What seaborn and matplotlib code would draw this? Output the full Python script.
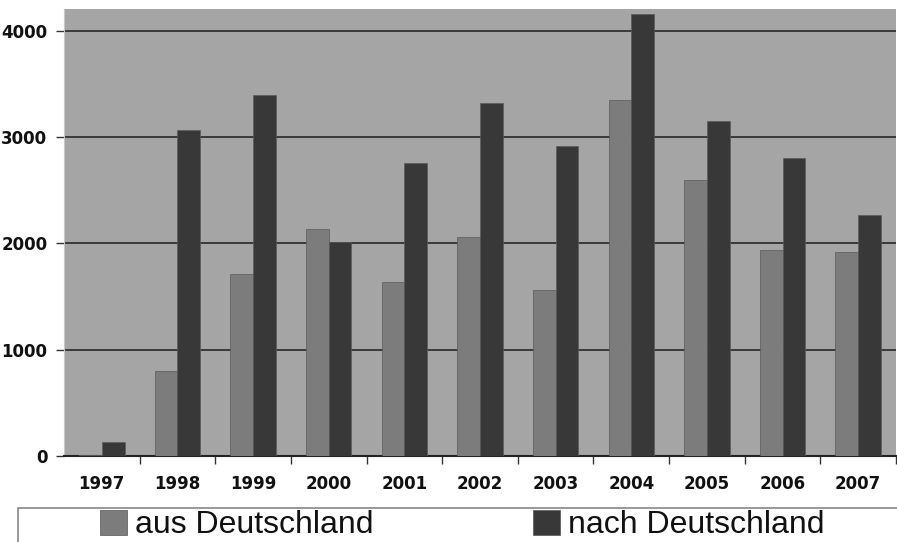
import pandas as pd
import numpy as np
import matplotlib.pyplot as plt
import matplotlib.patches as mpatches
import seaborn as sns

years = ["1997", "1998", "1999", "2000", "2001", "2002", "2003", "2004", "2005", "2006", "2007"]
aus_deutschland = [10, 800, 1710, 2140, 1640, 2060, 1560, 3350, 2600, 1940, 1920]
nach_deutschland = [130, 3070, 3400, 2010, 2760, 3320, 2920, 4160, 3150, 2800, 2270]
series_names = ["aus Deutschland", "nach Deutschland"]
y_ticks = [0, 1000, 2000, 3000, 4000]

df = pd.DataFrame({
    "Jahr": years * 2,
    "Wert": aus_deutschland + nach_deutschland,
    "Serie": [series_names[0]] * len(years) + [series_names[1]] * len(years),
})

sns.set_style("white")
plt.rcParams['font.family'] = ['DejaVu Sans']

fig = plt.figure(figsize=(8.97, 5.42), dpi=100)
ax = fig.add_axes([64 / 897, 86 / 542, 832 / 897, 447 / 542])
ax.set_facecolor("#a5a5a5")

palette = {series_names[0]: "#7c7c7c", series_names[1]: "#383838"}
sns.barplot(data=df, x="Jahr", y="Wert", hue="Serie", palette=palette,
            width=0.6, gap=0, ax=ax, legend=False, saturation=1,
            edgecolor="#5a5a5a", linewidth=0.5, zorder=3)

ax.set_ylim(0, 4205)
ax.set_xlim(-0.5, len(years) - 0.5)
ax.set_yticks(y_ticks)
ax.yaxis.grid(True, color="#3a3a3a", linewidth=1.4, zorder=1)
ax.set_axisbelow(True)
ax.set_xlabel("")
ax.set_ylabel("")

# ticks between the categories, labels centred
ax.set_xticks(np.arange(len(years)) + 0.5, minor=True)
ax.tick_params(axis="x", which="major", length=0, pad=14)
ax.tick_params(axis="x", which="minor", length=6, width=1, color="#333333", direction="out", bottom=True)
ax.tick_params(axis="y", length=6, width=1, color="#333333", direction="out", left=True, pad=6)
for lab in ax.get_xticklabels() + ax.get_yticklabels():
    lab.set_fontweight("bold")
    lab.set_fontsize(12)
    lab.set_color("#111111")

for side in ["top", "right"]:
    ax.spines[side].set_visible(False)
ax.spines["left"].set_color("#c8c8c8")
ax.spines["bottom"].set_color("#222222")
ax.spines["bottom"].set_linewidth(1.5)

# legend frame box
frame = mpatches.Rectangle((18 / 897, -0.02), 0.99, (542 - 508) / 542 + 0.02,
                           transform=fig.transFigure, facecolor="white",
                           edgecolor="#888888", linewidth=1.2)
fig.patches.append(frame)

handles = [plt.Rectangle((0, 0), 1, 1, facecolor=palette[s], edgecolor="#555555", linewidth=0.5) for s in series_names]
leg = fig.legend(handles, series_names, loc="center", ncol=2,
                 bbox_to_anchor=(462 / 897, 1 - 525 / 542),
                 frameon=False, columnspacing=5.0,
                 handlelength=0.85, handleheight=0.85, handletextpad=0.25,
                 borderaxespad=0, borderpad=0,
                 prop={"family": "Liberation Sans", "size": 23})
for t in leg.get_texts():
    t.set_color("#111111")

fig.savefig("out.png", dpi=100)
